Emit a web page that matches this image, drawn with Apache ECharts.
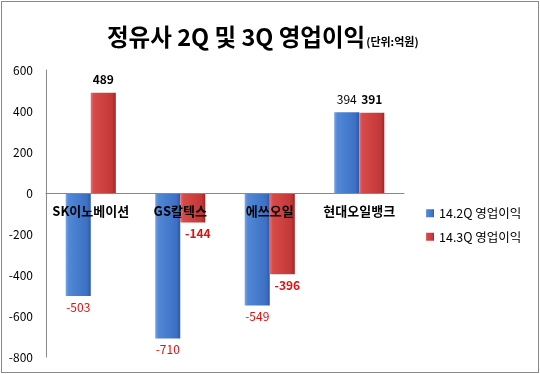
<!DOCTYPE html>
<html><head><meta charset="utf-8">
<script src="https://cdn.jsdelivr.net/npm/echarts@6/dist/echarts.min.js"></script>
<style>
html,body{margin:0;padding:0;background:#fff;}
#frame{position:absolute;left:1px;top:1px;width:536px;height:370px;border:1px solid #8a8a8a;}
#c{position:absolute;left:0;top:0;width:540px;height:374px;}
</style></head><body>
<div id="frame"></div>
<div id="c"></div>
<script>
const categories = ['SK이노베이션', 'GS칼텍스', '에쓰오일', '현대오일뱅크'];
const seriesNames = ['14.2Q 영업이익', '14.3Q 영업이익'];
const q2Values = [-503, -710, -549, 394];
const q3Values = [489, -144, -396, 391];
const yTicks = { min: -800, max: 600, interval: 200 };

const FONT = "'Noto Sans CJK KR', 'Noto Sans', sans-serif";
function grad(c0, c1, c2, c3) {
  return new echarts.graphic.LinearGradient(0, 0, 1, 0, [
    { offset: 0, color: c0 }, { offset: 0.12, color: c1 },
    { offset: 0.85, color: c2 }, { offset: 1, color: c3 }
  ]);
}
const blue = grad('#7aa6e6', '#5188d6', '#3d70c4', '#2b58a6');
const red = grad('#e87070', '#d84a4a', '#c23838', '#9e2626');

function mk(values, bold, dx) {
  return values.map(v => ({
    value: v,
    label: {
      show: true,
      position: v >= 0 ? 'top' : 'bottom',
      distance: v >= 0 ? 7 : 5,
      offset: v >= 0 ? [0, 0] : [dx, 0],
      color: v >= 0 ? '#000' : '#e01010',
      fontWeight: bold ? 'bold' : 'normal',
      fontSize: 12,
      fontFamily: FONT
    }
  }));
}

const gridTop = 70, gridBottom = 17, H = 374;
const plotH = H - gridTop - gridBottom;
const zeroFromBottom = plotH * (0 - yTicks.min) / (yTicks.max - yTicks.min);

const chart = echarts.init(document.getElementById('c'), null, { renderer: 'canvas' });
chart.setOption({
  animation: false,
  title: {
    text: '{m|정유사 2Q 및 3Q 영업이익}{s|(단위:억원)}',
    left: 102, top: 20,
    textStyle: {
      rich: {
        m: { fontSize: 23.5, fontWeight: 'bold', color: '#000', fontFamily: FONT, verticalAlign: 'bottom' },
        s: { fontSize: 11, color: '#000', fontFamily: FONT, verticalAlign: 'bottom', padding: [0, 0, 1, 1] }
      }
    }
  },
  legend: {
    orient: 'vertical', left: 421, top: 202,
    itemWidth: 8, itemHeight: 8, itemGap: 11,
    icon: 'rect',
    textStyle: { fontSize: 12.5, color: '#000', fontFamily: FONT },
    data: seriesNames
  },
  grid: { left: 46, right: 136, top: gridTop, bottom: gridBottom, containLabel: false, outerBoundsMode: 'none' },
  xAxis: {
    type: 'category', data: categories, z: 10,
    position: 'bottom', offset: -zeroFromBottom,
    axisLine: { show: true, onZero: false, lineStyle: { color: '#888', width: 1 } },
    axisTick: { show: false },
    axisLabel: { margin: 12, fontSize: 13, fontWeight: 'bold', color: '#000', fontFamily: FONT, interval: 0 }
  },
  yAxis: {
    type: 'value', min: yTicks.min, max: yTicks.max, interval: yTicks.interval,
    axisLine: { show: true, lineStyle: { color: '#888', width: 1 } },
    axisTick: { show: false },
    splitLine: { show: false },
    axisLabel: { fontSize: 12, color: '#000', fontFamily: FONT, margin: 13 }
  },
  series: [
    { name: seriesNames[0], type: 'bar', data: mk(q2Values, false, 0), barGap: '0%', barCategoryGap: '44%',
      itemStyle: { color: blue } },
    { name: seriesNames[1], type: 'bar', data: mk(q3Values, true, 5), barGap: '0%', barCategoryGap: '44%',
      itemStyle: { color: red } }
  ]
});
</script>
</body></html>
